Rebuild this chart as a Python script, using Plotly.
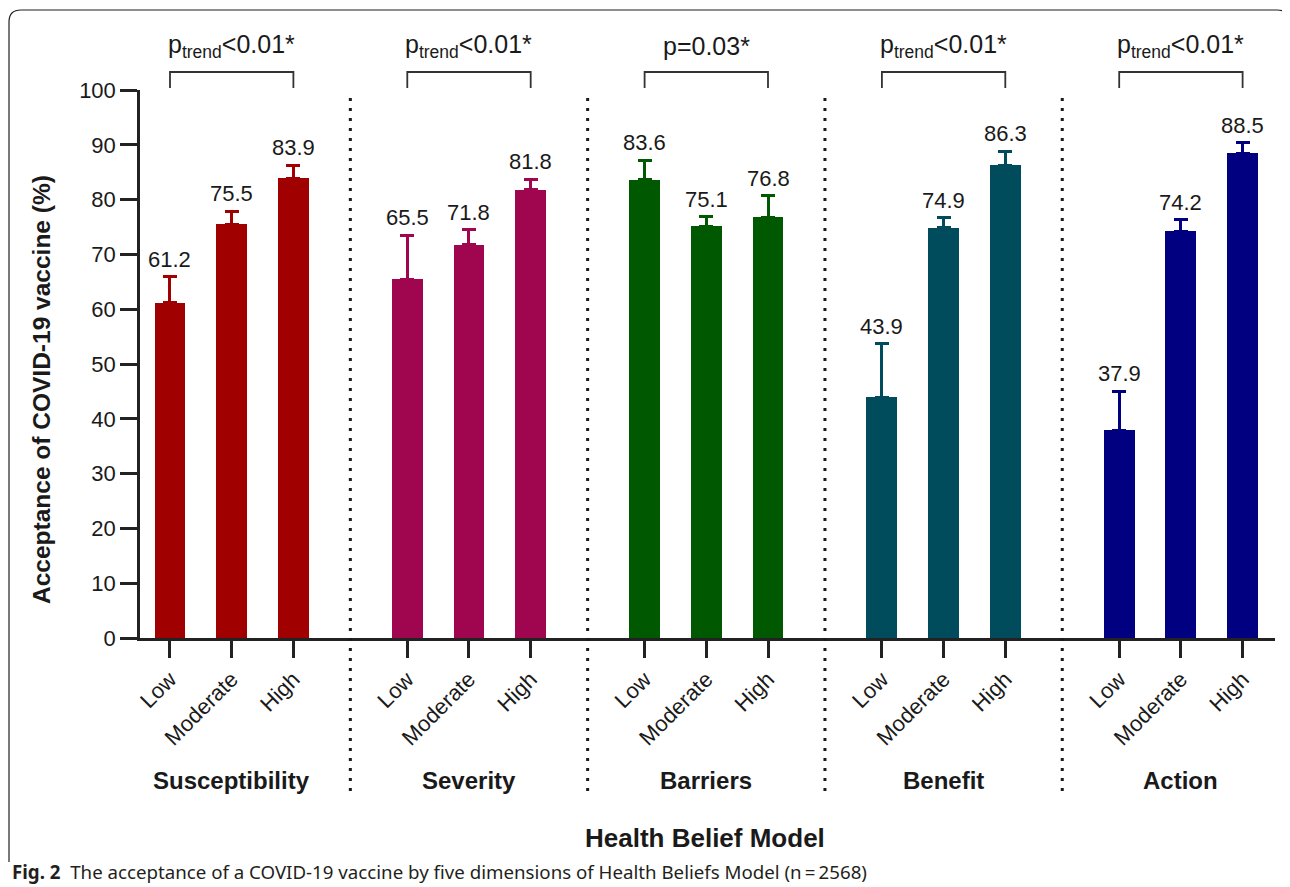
import plotly.graph_objects as go

groups = ["Susceptibility", "Severity", "Barriers", "Benefit", "Action"]
levels = ["Low", "Moderate", "High"]

susceptibility = [61.2, 75.5, 83.9]
severity = [65.5, 71.8, 81.8]
barriers = [83.6, 75.1, 76.8]
benefit = [43.9, 74.9, 86.3]
action = [37.9, 74.2, 88.5]

susceptibility_err = [4.7, 2.4, 2.4]
severity_err = [8.0, 2.7, 1.9]
barriers_err = [3.6, 1.8, 3.9]
benefit_err = [9.8, 1.8, 2.5]
action_err = [7.1, 2.1, 1.9]

p_labels = ["p<sub>trend</sub>&lt;0.01*", "p<sub>trend</sub>&lt;0.01*", "p=0.03*",
            "p<sub>trend</sub>&lt;0.01*", "p<sub>trend</sub>&lt;0.01*"]

values = [susceptibility, severity, barriers, benefit, action]
errors = [susceptibility_err, severity_err, barriers_err, benefit_err, action_err]
colors = ["#A00000", "#A0054F", "#005800", "#004C5C", "#000080"]

FONT = "Liberation Sans, Arial, Helvetica, sans-serif"
STEP = 3.846
OFF = 8  # page body margin
W, H = 1290 - OFF, 887 - OFF
L, R, T, B = 132, 15, 82, 249
XMIN, XMAX = -0.486, 4 * STEP + 2 + 0.525

def px2paper_x(px):
    # px given in reference-screenshot pixels
    return (px - OFF - L) / (W - L - R)

def px2paper_y(py):
    return (H - B - (py - OFF)) / (H - T - B)

fig = go.Figure()
tickvals, ticktext = [], []
for i, (g, vals, errs, col) in enumerate(zip(groups, values, errors, colors)):
    xs = [i * STEP + j for j in range(3)]
    tickvals += xs
    ticktext += levels
    fig.add_trace(go.Bar(
        x=xs, y=vals, width=0.5, marker=dict(color=col, line=dict(width=0)),
        error_y=dict(type="data", array=errs, arrayminus=[0, 0, 0], symmetric=False,
                     color=col, thickness=3, width=7),
        showlegend=False, hoverinfo="skip"))
    for x, v, e in zip(xs, vals, errs):
        fig.add_annotation(x=x, y=v + e, xref="x", yref="y", text=f"{v:.1f}",
                           showarrow=False, xanchor="center", yanchor="bottom", yshift=3,
                           font=dict(size=22, color="#1a1a1a", family=FONT))
    # group label
    fig.add_annotation(x=xs[1], y=px2paper_y(780), xref="x", yref="paper",
                       text=f"<b>{g}</b>", showarrow=False, xanchor="center", yanchor="middle",
                       font=dict(size=24, color="#1a1a1a", family=FONT))
    # bracket
    yb_top, yb_bot = px2paper_y(72), px2paper_y(88)
    fig.add_shape(type="path", xref="x", yref="paper",
                  path=f"M {xs[0]},{yb_bot} L {xs[0]},{yb_top} L {xs[2]},{yb_top} L {xs[2]},{yb_bot}",
                  line=dict(color="#333333", width=1.8))
    fig.add_annotation(x=xs[1], y=px2paper_y(46), xref="x", yref="paper",
                       text=p_labels[i], showarrow=False, xanchor="center", yanchor="middle",
                       font=dict(size=25, color="#1a1a1a", family=FONT))
    # divider
    if i < len(groups) - 1:
        xd = i * STEP + 1 + STEP / 2
        fig.add_shape(type="line", xref="x", yref="paper", x0=xd, x1=xd,
                      y0=px2paper_y(791), y1=px2paper_y(91),
                      line=dict(color="#1a1a1a", width=3, dash="3px,7px"))

# y title
fig.add_annotation(x=px2paper_x(41), y=px2paper_y(390), xref="paper", yref="paper",
                   text="<b>Acceptance of COVID-19 vaccine (%)</b>", textangle=-90,
                   showarrow=False, xanchor="center", yanchor="middle",
                   font=dict(size=24.5, color="#1a1a1a", family=FONT))
# x title
fig.add_annotation(x=px2paper_x(705), y=px2paper_y(838), xref="paper", yref="paper",
                   text="<b>Health Belief Model</b>", showarrow=False,
                   xanchor="center", yanchor="middle",
                   font=dict(size=26, color="#1a1a1a", family=FONT))
# caption
fig.add_annotation(x=px2paper_x(10), y=px2paper_y(872), xref="paper", yref="paper",
                   text="<b>Fig. 2</b>\u00a0\u00a0The acceptance of a COVID-19 vaccine by five dimensions of Health Beliefs Model (n\u2009=\u20092568)",
                   showarrow=False, xanchor="left", yanchor="middle",
                   font=dict(size=18.7, color="#231f20", family="Noto Sans, Open Sans, sans-serif"))

# frame border
x0, x1 = px2paper_x(9), px2paper_x(1289)
y0, yt = px2paper_y(862), px2paper_y(10)
rx, ry = 12 / (W - L - R), 12 / (H - T - B)
fig.add_shape(type="path", xref="paper", yref="paper",
              path=(f"M {x0},{y0} L {x0},{yt - ry} Q {x0},{yt} {x0 + rx},{yt} "
                    f"L {x1 - rx},{yt} Q {x1},{yt} {x1},{yt - ry}"),
              line=dict(color="#231f20", width=1.2))

fig.update_layout(
    width=W, height=H, margin=dict(l=L, r=R, t=T, b=B, autoexpand=False),
    plot_bgcolor="white", paper_bgcolor="white", bargap=0,
    font=dict(family=FONT, color="#1a1a1a"),
    xaxis=dict(range=[XMIN, XMAX], tickmode="array", tickvals=tickvals, ticktext=ticktext,
               tickangle=-45, ticks="outside", ticklen=17, tickwidth=2.5, tickcolor="#222222",
               showline=True, linecolor="#222222", linewidth=2.5, showgrid=False, zeroline=False,
               tickfont=dict(size=22, color="#1a1a1a", family=FONT), fixedrange=True),
    yaxis=dict(range=[0, 100], dtick=10, tick0=0, ticks="outside", ticklen=17, tickwidth=2.5,
               tickcolor="#222222", showline=True, linecolor="#222222", linewidth=2.5,
               showgrid=False, zeroline=False,
               tickfont=dict(size=22, color="#1a1a1a", family=FONT), fixedrange=True),
)

fig.write_html("out.html")
